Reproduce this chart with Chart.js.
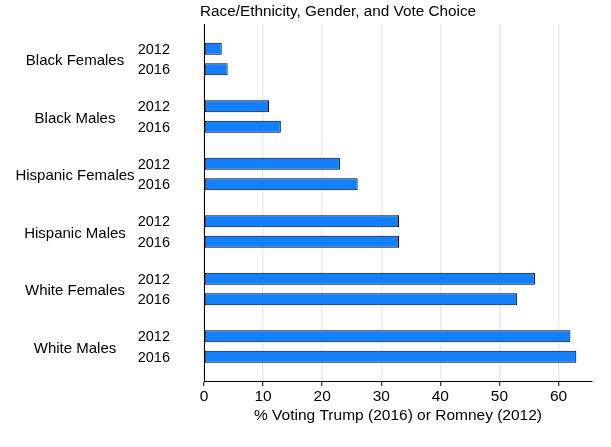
<!DOCTYPE html>
<html>
<head>
<meta charset="utf-8">
<script src="https://cdn.jsdelivr.net/npm/chart.js@4"></script>
<style>
  html, body { margin: 0; padding: 0; background: #fff; }
  #wrap { width: 611px; height: 447px; position: relative; }
</style>
</head>
<body>
<div id="wrap"><canvas id="c"></canvas></div>
<script>
const groups = ["Black Females", "Black Males", "Hispanic Females", "Hispanic Males", "White Females", "White Males"];
const years = ["2012", "2016"];
const values2012 = [3, 11, 23, 33, 56, 62];
const values2016 = [4, 13, 26, 33, 53, 63];
const xTicks = [0, 10, 20, 30, 40, 50, 60];
const titleText = "Race/Ethnicity, Gender, and Vote Choice";
const xTitle = "% Voting Trump (2016) or Romney (2012)";

const FONT = "'Liberation Sans', Arial, sans-serif";
const barColor = "#1280FF";

const labelsPlugin = {
  id: "labelsPlugin",
  afterDraw(chart) {
    const ctx = chart.ctx;
    const yScale = chart.scales.y;
    ctx.save();
    ctx.fillStyle = "#000";
    ctx.textBaseline = "middle";
    // group labels
    ctx.font = "15px " + FONT;
    ctx.textAlign = "center";
    groups.forEach((g, i) => {
      ctx.fillText(g, 75, yScale.getPixelForValue(i) + 2);
    });
    // year labels at bar positions
    ctx.font = "14.5px " + FONT;
    ctx.textAlign = "right";
    chart.data.datasets.forEach((ds, di) => {
      const meta = chart.getDatasetMeta(di);
      meta.data.forEach(bar => {
        ctx.fillText(ds.label, 170, bar.y + 1);
      });
    });
    // title
    ctx.font = "15.3px " + FONT;
    ctx.textAlign = "center";
    ctx.fillText(titleText, 338, 12);
    ctx.restore();
  }
};

new Chart(document.getElementById("c"), {
  type: "bar",
  data: {
    datasets: [
      { label: years[0], data: groups.map((g, i) => ({ y: i, x: values2012[i] })) },
      { label: years[1], data: groups.map((g, i) => ({ y: i, x: values2016[i] })) }
    ].map(d => Object.assign(d, {
      backgroundColor: barColor,
      borderColor: "#000",
      borderWidth: 1,
      borderSkipped: false,
      categoryPercentage: 0.713,
      barPercentage: 0.585
    }))
  },
  options: {
    indexAxis: "y",
    responsive: true,
    maintainAspectRatio: false,
    animation: false,
    layout: { padding: { left: 0, right: 19, top: 24, bottom: 0 } },
    plugins: { legend: { display: false }, title: { display: false }, tooltip: { enabled: false } },
    scales: {
      y: {
        type: "linear",
        reverse: true,
        offset: false,
        min: -0.609,
        max: 5.6,
        afterFit(s) { s.width = 204; },
        ticks: { display: false, stepSize: 1, includeBounds: false },
        grid: { display: false, offset: false },
        border: { display: true, color: "#000", width: 1 }
      },
      x: {
        type: "linear",
        min: 0,
        max: 65.66,
        afterBuildTicks(s) { s.ticks = xTicks.map(v => ({ value: v })); },
        afterFit(s) { s.height = 66; },
        ticks: { color: "#000", font: { family: FONT, size: 15.5 }, padding: 1 },
        grid: { color: "#e6ecef", lineWidth: 1.5, tickColor: "#000", tickLength: 5, tickWidth: 1 },
        border: { display: true, color: "#000", width: 1 },
        title: { display: true, text: xTitle, color: "#000", font: { family: FONT, size: 15.5 }, padding: { top: 0, bottom: 22 } }
      }
    }
  },
  plugins: [labelsPlugin]
});
</script>
</body>
</html>
